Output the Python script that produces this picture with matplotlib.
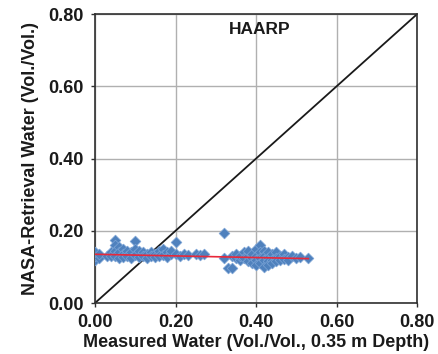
import numpy as np
import matplotlib.pyplot as plt

plt.rcParams['font.family'] = ['Liberation Sans', 'DejaVu Sans']

# measured water (x) and retrieved water (y)
measured = [
    0.00, 0.00, 0.00, 0.01, 0.01,
    0.03, 0.04, 0.04, 0.05, 0.05, 0.05, 0.05, 0.06, 0.06, 0.06, 0.07, 0.07,
    0.07, 0.08, 0.08, 0.09, 0.09, 0.10, 0.10, 0.10, 0.11, 0.11, 0.12, 0.12,
    0.13, 0.13, 0.14, 0.14, 0.15, 0.15, 0.16, 0.16, 0.17, 0.17, 0.18, 0.18,
    0.19, 0.19, 0.20, 0.20, 0.21, 0.22, 0.23,
    0.25, 0.26, 0.27,
    0.32, 0.32, 0.33, 0.34, 0.34, 0.35, 0.35, 0.36, 0.36, 0.37, 0.37, 0.38,
    0.38, 0.38, 0.39, 0.39, 0.39, 0.40, 0.40, 0.40, 0.40, 0.41, 0.41, 0.41,
    0.41, 0.42, 0.42, 0.42, 0.42, 0.43, 0.43, 0.43, 0.43, 0.44, 0.44, 0.44,
    0.45, 0.45, 0.45, 0.46, 0.46, 0.47, 0.47, 0.48, 0.48, 0.49, 0.50, 0.51,
    0.53,
]
retrieved = [
    0.120, 0.130, 0.140, 0.125, 0.135,
    0.130, 0.140, 0.130, 0.175, 0.160, 0.145, 0.130, 0.155, 0.140, 0.125, 0.150,
    0.135, 0.128, 0.145, 0.130, 0.140, 0.125, 0.172, 0.150, 0.132, 0.145, 0.128,
    0.140, 0.130, 0.135, 0.125, 0.140, 0.130, 0.135, 0.128, 0.145, 0.130, 0.150,
    0.132, 0.140, 0.128, 0.135, 0.145, 0.168, 0.135, 0.130, 0.135, 0.132,
    0.135, 0.132, 0.135,
    0.194, 0.125, 0.097, 0.097, 0.130, 0.125, 0.135, 0.120, 0.130, 0.140, 0.125,
    0.130, 0.115, 0.145, 0.125, 0.135, 0.110, 0.150, 0.130, 0.120, 0.105, 0.160,
    0.140, 0.125, 0.110, 0.145, 0.130, 0.120, 0.100, 0.140, 0.125, 0.115, 0.105,
    0.135, 0.120, 0.110, 0.140, 0.125, 0.115, 0.130, 0.120, 0.135, 0.122, 0.128,
    0.118, 0.130, 0.125, 0.128, 0.125,
]
# red regression line end points
fit_x = [0.0, 0.53]
fit_y = [0.135, 0.123]

fig = plt.figure(figsize=(4.39, 3.54), dpi=100)
ax = fig.add_axes([0.2164, 0.144, 0.7336, 0.816])

ax.plot([0, 0.8], [0, 0.8], color='#1a1a1a', lw=1.3, zorder=2)
ax.scatter(measured, retrieved, marker='D', s=30, color='#4f81bd',
           edgecolor='#7ba3d6', linewidth=0.5, zorder=3)
ax.plot(fit_x, fit_y, color='#e8283a', lw=1.2, zorder=4)

ax.set_xlim(0, 0.8)
ax.set_ylim(0, 0.8)
ticks = [0.0, 0.2, 0.4, 0.6, 0.8]
ax.set_xticks(ticks)
ax.set_yticks(ticks)
ax.set_xticklabels(['%.2f' % t for t in ticks])
ax.set_yticklabels(['%.2f' % t for t in ticks])
ax.grid(True, color='#b0b0b0', lw=1.0, zorder=0)
ax.set_axisbelow(True)
for s in ax.spines.values():
    s.set_color('#303030')
    s.set_linewidth(1.2)
ax.tick_params(direction='out', length=3, width=1, colors='#303030',
               labelsize=13, labelcolor='#1a1a1a')
ax.tick_params(axis='y', pad=5)
ax.tick_params(axis='x', pad=5)
for lab in ax.get_xticklabels() + ax.get_yticklabels():
    lab.set_fontweight('bold')

ax.set_xlabel('Measured Water (Vol./Vol., 0.35 m Depth)', fontsize=13,
              fontweight='bold', color='#1a1a1a', labelpad=2)
ax.set_ylabel('NASA-Retrieval Water (Vol./Vol.)', fontsize=13,
              fontweight='bold', color='#1a1a1a', labelpad=7)
ax.text(0.512, 0.948, 'HAARP', transform=ax.transAxes, ha='center', va='center',
        fontsize=12.5, fontweight='bold', color='#1a1a1a')

fig.savefig('out.png', dpi=100)
